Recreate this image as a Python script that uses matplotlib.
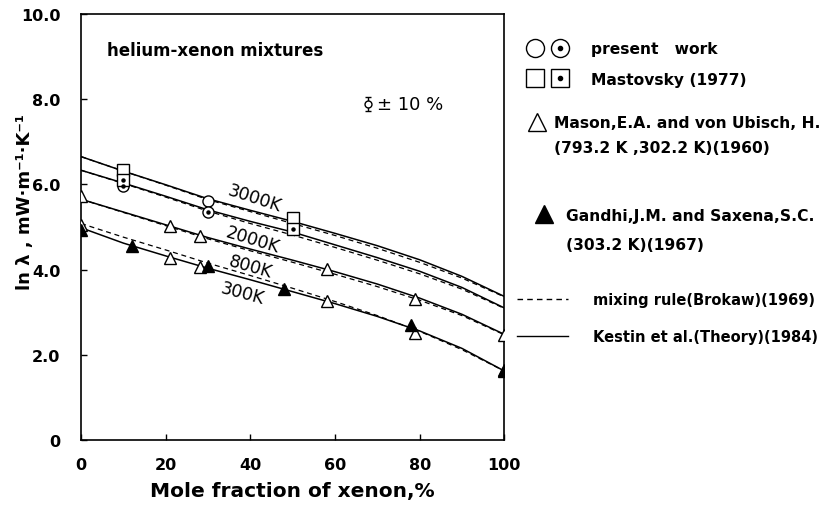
import matplotlib
matplotlib.use("Agg")
from matplotlib import pyplot as plt
from matplotlib.lines import Line2D
from matplotlib.legend_handler import HandlerTuple

# composition grid for the calculated curves (mole % xenon)
x_curve = [0, 10, 20, 30, 40, 50, 60, 70, 80, 90, 100]

# Kestin et al. theory (solid)
theory_3000 = [6.65, 6.31, 5.99, 5.66, 5.39, 5.13, 4.85, 4.56, 4.23, 3.84, 3.37]
theory_2000 = [6.33, 6.03, 5.72, 5.40, 5.13, 4.88, 4.58, 4.28, 3.96, 3.58, 3.10]
theory_800 = [5.65, 5.35, 5.05, 4.75, 4.48, 4.22, 3.95, 3.66, 3.33, 2.95, 2.48]
theory_300 = [4.98, 4.62, 4.32, 4.03, 3.76, 3.48, 3.20, 2.90, 2.56, 2.15, 1.62]

# mixing rule (Brokaw), dashed
brokaw_3000 = [6.65, 6.31, 5.98, 5.64, 5.36, 5.08, 4.80, 4.50, 4.17, 3.80, 3.36]
brokaw_2000 = [6.33, 6.02, 5.70, 5.37, 5.08, 4.81, 4.52, 4.22, 3.90, 3.54, 3.09]
brokaw_800 = [5.65, 5.34, 5.03, 4.72, 4.44, 4.17, 3.89, 3.60, 3.28, 2.92, 2.47]
brokaw_300 = [5.08, 4.76, 4.46, 4.15, 3.86, 3.56, 3.25, 2.92, 2.55, 2.12, 1.62]

# present work
pw_x = [10, 30]
pw_3000 = [6.24, 5.62]
pw_2000 = [5.95, 5.34]

# Mastovsky (1977)
mast_x = [10, 50]
mast_3000 = [6.33, 5.22]
mast_2000 = [6.10, 4.95]

# Mason and von Ubisch (1960)
mason_x = [0, 21, 28, 58, 79, 100]
mason_793 = [5.72, 5.02, 4.78, 4.02, 3.32, 2.47]
mason_302 = [5.05, 4.27, 4.05, 3.27, 2.52, 1.65]

# Gandhi and Saxena (1967)
gandhi_x = [0, 12, 30, 48, 78, 100]
gandhi_303 = [4.92, 4.55, 4.08, 3.55, 2.70, 1.62]

curve_labels = ["3000K", "2000K", "800K", "300K"]
label_pos = [(41, 5.68, -18), (40.5, 4.72, -17), (40, 4.08, -16), (38, 3.45, -15)]

plt.rcParams["font.family"] = ["DejaVu Sans"]

fig = plt.figure(figsize=(8.28, 5.06), dpi=100)
ax = fig.add_axes([0.098, 0.1285, 0.511, 0.842])

for ys in [theory_3000, theory_2000, theory_800, theory_300]:
    ax.plot(x_curve, ys, color="black", lw=1.1)
for ys in [brokaw_3000, brokaw_2000, brokaw_800, brokaw_300]:
    ax.plot(x_curve, ys, color="black", lw=0.9, dashes=(4, 3))

mk = dict(linestyle="none", color="black", markersize=8, markeredgewidth=1.0,
          markerfacecolor="white", zorder=3)
dot = dict(linestyle="none", color="black", marker="o", markersize=2.2, zorder=4)

ax.plot(pw_x, pw_3000, marker="o", **mk)
ax.plot(pw_x, pw_2000, marker="o", **mk)
ax.plot(pw_x, pw_2000, **dot)
ax.plot(mast_x, mast_3000, marker="s", **mk)
ax.plot(mast_x, mast_2000, marker="s", **mk)
ax.plot(mast_x, mast_2000, **dot)
ax.plot(mason_x, mason_793, marker="^", **mk)
ax.plot(mason_x, mason_302, marker="^", **mk)
ax.plot(gandhi_x, gandhi_303, linestyle="none", marker="^", color="black",
        markersize=8, zorder=4)

for txt, (tx, ty, rot) in zip(curve_labels, label_pos):
    ax.text(tx, ty, txt, fontsize=12.5, rotation=rot, ha="center", va="center",
            rotation_mode="anchor")

ax.text(6, 9.15, "helium-xenon mixtures", fontsize=12, fontweight="bold",
        va="center")
# error-barred circle symbol (no installed font has the glyph)
ax.errorbar([0.677], [0.789], yerr=[0.017], transform=ax.transAxes, fmt="o",
            color="black", mfc="white", ms=5, mew=1.0, elinewidth=1.0,
            capsize=2.5, clip_on=False)
ax.text(0.700, 0.789, "± 10 %", transform=ax.transAxes, fontsize=13,
        va="center")

ax.set_xlim(0, 100)
ax.set_ylim(0, 10)
ax.set_xticks([0, 20, 40, 60, 80, 100])
ax.set_yticks([0, 2, 4, 6, 8, 10])
ax.set_yticklabels(["0", "2.0", "4.0", "6.0", "8.0", "10.0"])
ax.tick_params(direction="in", length=4, width=1.0, labelsize=11.5)
ax.tick_params(axis="x", pad=12)
ax.tick_params(axis="y", pad=15)
for lab in ax.get_xticklabels() + ax.get_yticklabels():
    lab.set_fontweight("bold")
for sp in ax.spines.values():
    sp.set_linewidth(1.2)

ax.set_xlabel("Mole fraction of xenon,%", fontsize=14.5, fontweight="bold")
ax.xaxis.set_label_coords(0.5, -0.096)
ax.set_ylabel("ln λ , mW·m⁻¹·K⁻¹", fontsize=13, fontweight="bold")
ax.yaxis.set_label_coords(-0.112, 0.56)


class Overlay(tuple):
    pass


leg_style = dict(linestyle="none", color="black", markerfacecolor="white",
                 markersize=13, markeredgewidth=1.0)
leg_dot = Line2D([], [], linestyle="none", color="black", marker="o", markersize=3)
h_circle = Line2D([], [], marker="o", **leg_style)
h_square = Line2D([], [], marker="s", **leg_style)
h_tri = Line2D([], [], marker="^", **leg_style)
h_ftri = Line2D([], [], linestyle="none", marker="^", color="black", markersize=13)
h_dash = Line2D([], [], color="black", lw=1.0, dashes=(4, 3))
h_solid = Line2D([], [], color="black", lw=1.0)
h_blank = Line2D([], [], linestyle="none")

tmap = {tuple: HandlerTuple(ndivide=None, pad=0.3), Overlay: HandlerTuple(ndivide=1)}


def add_block(handles, labels, x_px, y_px, hlen, hpad, spacing, size=11.2):
    leg = fig.legend(handles, labels, handler_map=tmap, loc="center left",
                     bbox_to_anchor=(x_px / 828, 1 - y_px / 506),
                     frameon=False, prop={"size": size, "weight": "bold"},
                     borderpad=0, borderaxespad=0,
                     handlelength=hlen, handletextpad=hpad, labelspacing=spacing)
    return leg


add_block([(h_circle, Overlay((h_circle, leg_dot))),
           (h_square, Overlay((h_square, leg_dot)))],
          ["present   work", "Mastovsky (1977)"], 524, 65, 3.0, 1.3, 1.0)
add_block([h_tri, h_blank],
          ["Mason,E.A. and von Ubisch, H.", "(793.2 K ,302.2 K)(1960)"],
          528, 136, 1.2, 0.5, 0.62)
add_block([h_ftri, h_blank],
          ["Gandhi,J.M. and Saxena,S.C.", "(303.2 K)(1967)"],
          535, 231, 1.2, 0.8, 0.95)
add_block([h_dash, h_solid],
          ["mixing rule(Brokaw)(1969)", "Kestin et al.(Theory)(1984)"],
          517, 319, 3.5, 1.7, 1.5, size=10.5)

fig.savefig("out.png", dpi=100)
